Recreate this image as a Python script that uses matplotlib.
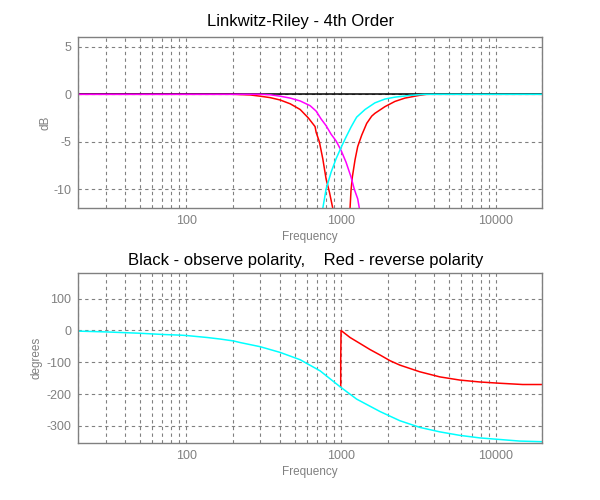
import numpy as np
import matplotlib
matplotlib.use('Agg')
import matplotlib.pyplot as plt
from matplotlib.ticker import LogLocator, FixedLocator, NullFormatter

# magnitude curves (Hz, dB)
f_black = [20, 20000]
db_black = [0, 0]

f_red = [20, 200, 259, 300, 348, 404, 469, 544, 615, 679, 690, 724, 762, 800, 841, 884,
         1000, 1143, 1160, 1183, 1231, 1281, 1360, 1465, 1578, 1656, 1922, 2230, 2587, 3001, 3234, 3573, 20000]
db_red = [0, 0, -0.07, -0.2, -0.35, -0.6, -1.0, -1.6, -2.5, -3.4, -4.0, -5.0, -6.8, -8.9, -10.3, -12,
          -40, -12, -10.1, -8.7, -6.9, -5.5, -4.3, -3.06, -2.3, -2.0, -1.3, -0.75, -0.4, -0.2, -0.1, 0, 0]

f_mag = [20, 250, 300, 348, 404, 469, 544, 631, 690, 743, 800, 862, 928, 1000, 1077, 1160,
         1218, 1281, 1313, 1400]
db_mag = [0, 0, 0, -0.05, -0.2, -0.4, -0.7, -1.2, -1.77, -2.6, -3.3, -4.2, -4.9, -5.9, -7.15, -8.7,
          -10, -11, -12, -13.5]

f_cyan = [700, 762, 800, 862, 928, 1000, 1077, 1160, 1231, 1262, 1429, 1656, 1922, 2230, 2858, 3485, 20000]
db_cyan = [-14, -12, -10, -8.2, -6.8, -5.6, -4.5, -3.45, -2.7, -2.4, -1.6, -0.9, -0.5, -0.3, -0.1, 0, 0]

# phase curves (Hz, degrees)
f_ph = [20, 30, 49, 71, 92, 100, 123, 136, 166, 202, 223, 300, 404, 544, 732, 985, 1262,
        1785, 2402, 3234, 4353, 5857, 7885, 10612, 14284, 20000]
ph_cyan = [-2, -4.4, -8.5, -12.6, -14.7, -15.8, -20, -22, -27, -33, -38, -51, -69, -92, -127, -177, -216,
           -255, -284, -305, -319, -330, -338, -343, -348, -350]

f_ph_red = [995, 995, 1000, 1143, 1327, 1539, 1785, 2071, 2402, 3234, 4353, 5857, 7885, 10612, 14930, 20000]
ph_red = [-177, -91, 0, -22, -41, -60, -77, -95, -109, -130, -146, -156, -162, -166, -170, -170]

GRAY = '#808080'
plt.rcParams['font.family'] = ['Liberation Sans', 'DejaVu Sans']
plt.rcParams['axes.unicode_minus'] = False

fig = plt.figure(figsize=(6, 5), dpi=100)
ax1 = fig.add_axes([0.1305, 0.5834, 0.7733, 0.342])
ax2 = fig.add_axes([0.1305, 0.1134, 0.7733, 0.34])


def style(ax, ylabel, yticks, ylabelpad):
    ax.set_xscale('log')
    ax.set_xlim(20, 20000)
    ax.xaxis.set_major_locator(FixedLocator([100, 1000, 10000]))
    ax.xaxis.set_major_formatter(plt.FuncFormatter(lambda v, p: '%d' % v))
    ax.xaxis.set_minor_locator(LogLocator(base=10, subs=np.arange(2, 10), numticks=20))
    ax.xaxis.set_minor_formatter(NullFormatter())
    ax.yaxis.set_major_locator(FixedLocator(yticks))
    ax.grid(True, which='both', color=GRAY, linestyle=(0, (3, 3)), linewidth=0.8)
    ax.tick_params(which='both', length=0, colors=GRAY, labelsize=9, pad=5)
    for s in ax.spines.values():
        s.set_color(GRAY)
        s.set_linewidth(1.0)
    ax.set_xlabel('Frequency', color=GRAY, fontsize=8.5, labelpad=3)
    ax.set_ylabel(ylabel, color=GRAY, fontsize=8.5, labelpad=ylabelpad)
    ax.set_axisbelow(True)


ax1.plot(f_red, db_red, color='#ff0000', lw=1.1)
ax1.plot(f_black, db_black, color='black', lw=1.1)
ax1.plot(f_mag, db_mag, color='#ff00ff', lw=1.1)
ax1.plot(f_cyan, db_cyan, color='#00ffff', lw=1.1)
ax1.set_ylim(-12, 6)
style(ax1, 'dB', [-10, -5, 0, 5], 1)
ax1.set_title('Linkwitz-Riley - 4th Order', fontsize=12, pad=8, x=0.478)

ax2.plot(f_ph_red, ph_red, color='#ff0000', lw=1.1)
ax2.plot(f_ph, ph_cyan, color='#00ffff', lw=1.1)
ax2.set_ylim(-355, 180)
style(ax2, 'degrees', [-300, -200, -100, 0, 100], 3)
ax2.set_title('Black - observe polarity,    Red - reverse polarity', fontsize=12, pad=6, x=0.491)

fig.savefig('out.png', dpi=100)
